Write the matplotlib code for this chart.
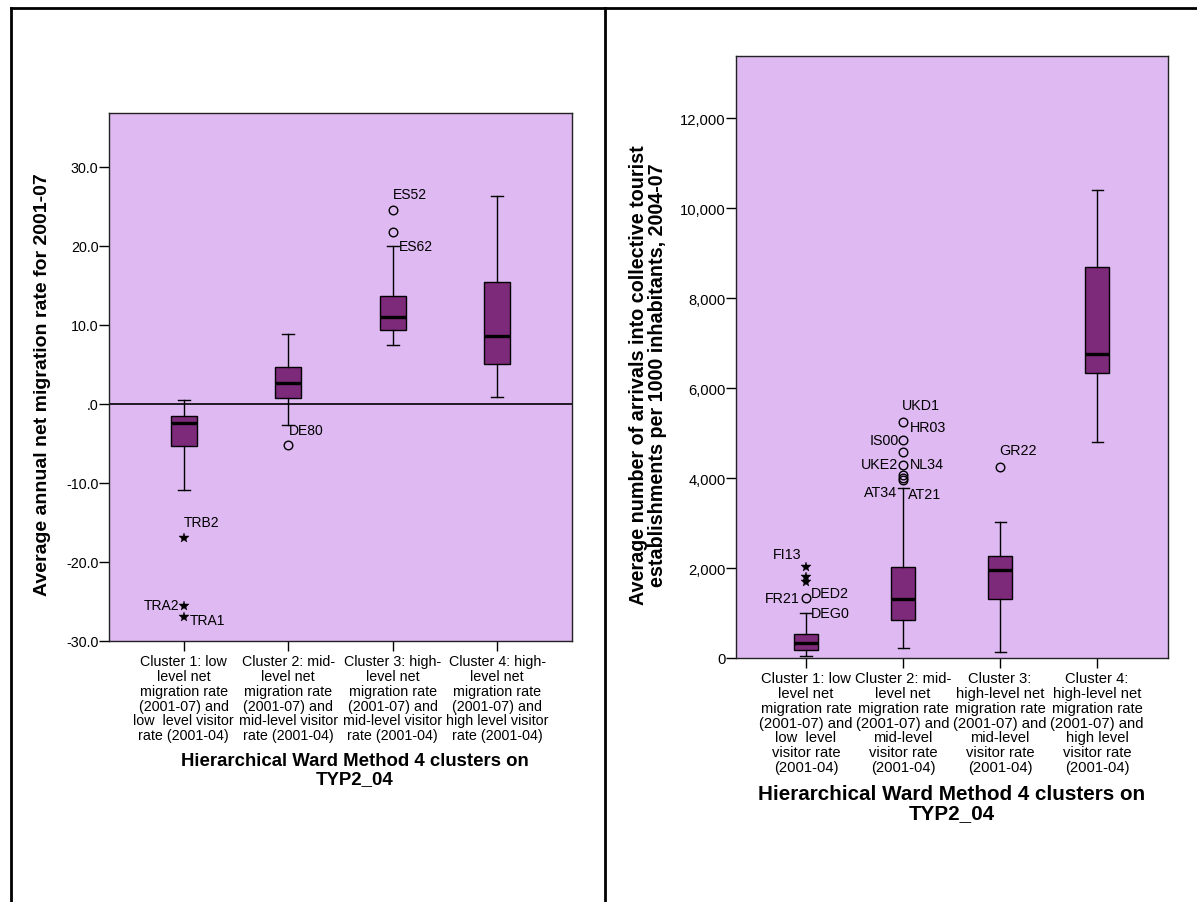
import matplotlib
matplotlib.use('Agg')
import matplotlib.pyplot as plt
from matplotlib.lines import Line2D

plt.rcParams['font.family'] = ['Liberation Sans', 'DejaVu Sans']

# ---------------- data: left chart ----------------
left_categories = [
    "Cluster 1: low\nlevel net\nmigration rate\n(2001-07) and\nlow  level visitor\nrate (2001-04)",
    "Cluster 2: mid-\nlevel net\nmigration rate\n(2001-07) and\nmid-level visitor\nrate (2001-04)",
    "Cluster 3: high-\nlevel net\nmigration rate\n(2001-07) and\nmid-level visitor\nrate (2001-04)",
    "Cluster 4: high-\nlevel net\nmigration rate\n(2001-07) and\nhigh level visitor\nrate (2001-04)",
]
left_whislo = [-10.87, -2.7, 7.44, 0.81]
left_q1 = [-5.28, 0.68, 9.3, 5.0]
left_med = [-2.48, 2.62, 11.0, 8.6]
left_q3 = [-1.58, 4.6, 13.6, 15.4]
left_whishi = [0.5, 8.84, 19.9, 26.3]
left_circle_group = [2, 3, 3]
left_circle_value = [-5.19, 24.45, 21.74]
left_star_group = [1, 1, 1]
left_star_value = [-17.0, -25.6, -27.0]
left_label_group = [1, 1, 1, 2, 3, 3]
left_label_value = [-17.0, -25.6, -27.0, -5.19, 24.45, 21.74]
left_label_text = ['TRB2', 'TRA2', 'TRA1', 'DE80', 'ES52', 'ES62']
left_yticks = [-30, -20, -10, 0, 10, 20, 30]
left_yticklabels = ['-30.0', '-20.0', '-10.0', '.0', '10.0', '20.0', '30.0']
left_ylabel = "Average annual net migration rate for 2001-07"

# ---------------- data: right chart ----------------
right_categories = [
    "Cluster 1: low\nlevel net\nmigration rate\n(2001-07) and\nlow  level\nvisitor rate\n(2001-04)",
    "Cluster 2: mid-\nlevel net\nmigration rate\n(2001-07) and\nmid-level\nvisitor rate\n(2001-04)",
    "Cluster 3:\nhigh-level net\nmigration rate\n(2001-07) and\nmid-level\nvisitor rate\n(2001-04)",
    "Cluster 4:\nhigh-level net\nmigration rate\n(2001-07) and\nhigh level\nvisitor rate\n(2001-04)",
]
right_whislo = [50, 219, 131, 4791]
right_q1 = [180, 850, 1305, 6324]
right_med = [340, 1305, 1953, 6762]
right_q3 = [535, 2032, 2277, 8697]
right_whishi = [1000, 3784, 3022, 10397]
right_circle_group = [1, 2, 2, 2, 2, 2, 2, 2, 3]
right_circle_value = [1335, 5255, 4844, 4572, 4292, 4073, 4003, 3959, 4248]
right_star_group = [1, 1, 1]
right_star_value = [2030, 1790, 1700]
right_label_group = [1, 1, 1, 1, 2, 2, 2, 2, 2, 2, 2, 3]
right_label_value = [2030, 1335, 1335, 1000, 5255, 5255, 4844, 4292, 4292, 3959, 3959, 4248]
right_label_text = ['FI13', 'FR21', 'DED2', 'DEG0', 'UKD1', 'HR03', 'IS00', 'UKE2',
                    'NL34', 'AT34', 'AT21', 'GR22']
right_yticks = [0, 2000, 4000, 6000, 8000, 10000, 12000]
right_yticklabels = ['0', '2,000', '4,000', '6,000', '8,000', '10,000', '12,000']
right_ylabel = ("Average number of arrivals into collective tourist\n"
                "establishments per 1000 inhabitants, 2004-07")

xlabel_text = "Hierarchical Ward Method 4 clusters on\nTYP2_04"

# ---------------- style ----------------
BG = '#DEB9F2'
BOX = '#7E2A7A'
W, H = 1197, 903

# label offsets in pixels (dx, dy) and alignment
left_label_off = [(0, 16, 'left'), (-4, 1.5, 'right'), (6, -3, 'left'),
                  (1, 15, 'left'), (0, 16, 'left'), (6, -14, 'left')]
right_label_off = [(-5, 13, 'right'), (-6, 0, 'right'), (5, 5, 'left'), (5, 0, 'left'),
                   (-1, 17, 'left'), (6.5, -5, 'left'), (-4, 0, 'right'),
                   (-4.5, 1, 'right'), (7, 1, 'left'), (-6, -12, 'right'),
                   (5, -14, 'left'), (-1, 17, 'left')]

fig = plt.figure(figsize=(W / 100, H / 100), dpi=100)
fig.patch.set_facecolor('white')


def px_axes(x0, y0, x1, y1):
    return fig.add_axes([x0 / W, 1 - y1 / H, (x1 - x0) / W, (y1 - y0) / H])


def draw(ax, cats, wlo, q1, med, q3, whi, cg, cv, sg, sv, lg, lv, lt, loff,
         yticks, yticklabels, ylim, xlim, tickfs, lblfs):
    ax.set_facecolor(BG)
    stats = []
    for i in range(len(cats)):
        stats.append(dict(whislo=wlo[i], q1=q1[i], med=med[i], q3=q3[i],
                          whishi=whi[i], fliers=[]))
    ax.bxp(stats, positions=list(range(1, len(cats) + 1)), widths=0.25,
           capwidths=0.115, patch_artist=True, showfliers=False,
           boxprops=dict(facecolor=BOX, edgecolor='black', linewidth=1.0),
           medianprops=dict(color='black', linewidth=2.4),
           whiskerprops=dict(color='black', linewidth=1.0),
           capprops=dict(color='black', linewidth=1.0))
    ax.plot(cg, cv, linestyle='none', marker='o', markersize=6.2,
            markerfacecolor='none', markeredgecolor='black', markeredgewidth=1.0)
    ax.plot(sg, sv, linestyle='none', marker='*', markersize=7,
            markerfacecolor='black', markeredgecolor='black', markeredgewidth=0.3)
    for g, v, t, (dx, dy, ha) in zip(lg, lv, lt, loff):
        ax.annotate(t, (g, v), xytext=(dx * 0.72, dy * 0.72),
                    textcoords='offset points', ha=ha, va='center',
                    fontsize=lblfs)
    ax.set_xlim(*xlim)
    ax.set_ylim(*ylim)
    ax.set_yticks(yticks)
    ax.set_yticklabels(yticklabels, fontsize=tickfs)
    ax.set_xticks(list(range(1, len(cats) + 1)))
    ax.set_xticklabels(cats, fontsize=tickfs, linespacing=1.07)
    ax.tick_params(axis='both', direction='out', length=7, width=1.0,
                   color='black')
    ax.tick_params(axis='x', pad=2.5)
    ax.tick_params(axis='y', pad=0.5)
    for s in ax.spines.values():
        s.set_linewidth(1.0)
        s.set_color('#222222')


# left chart
axL = px_axes(109, 114, 572, 642)
draw(axL, left_categories, left_whislo, left_q1, left_med, left_q3, left_whishi,
     left_circle_group, left_circle_value, left_star_group, left_star_value,
     left_label_group, left_label_value, left_label_text, left_label_off,
     left_yticks, left_yticklabels, (-30, 36.77), (0.284, 4.716), 10.3, 10)
axL.axhline(0, color='black', linewidth=1.2, zorder=1)

# right chart
axR = px_axes(736, 57, 1168, 659)
draw(axR, right_categories, right_whislo, right_q1, right_med, right_q3, right_whishi,
     right_circle_group, right_circle_value, right_star_group, right_star_value,
     right_label_group, right_label_value, right_label_text, right_label_off,
     right_yticks, right_yticklabels, (0, 13380), (0.278, 4.73), 10.6, 10.3)

# axis titles
fig.text(43 / W, 1 - 385 / H, left_ylabel, rotation=90, ha='center', va='center',
         fontsize=14, fontweight='bold')
fig.text(648 / W, 1 - 375 / H, right_ylabel, rotation=90, ha='center', va='center',
         fontsize=14.2, fontweight='bold', linespacing=1.0, multialignment='center')
fig.text(355 / W, 1 - 770.5 / H, xlabel_text, ha='center', va='center',
         fontsize=13.4, fontweight='bold', linespacing=1.02, multialignment='center')
fig.text(952 / W, 1 - 804 / H, xlabel_text, ha='center', va='center',
         fontsize=14.85, fontweight='bold', linespacing=1.05, multialignment='center')

# outer frame lines
for (x0, y0, x1, y1) in [(11, 9, 1197, 9), (11, 9, 11, 903), (605, 9, 605, 903)]:
    fig.add_artist(Line2D([x0 / W, x1 / W], [1 - y0 / H, 1 - y1 / H],
                          transform=fig.transFigure, color='black', linewidth=2.0))

fig.savefig('out.png', dpi=100, facecolor='white')
